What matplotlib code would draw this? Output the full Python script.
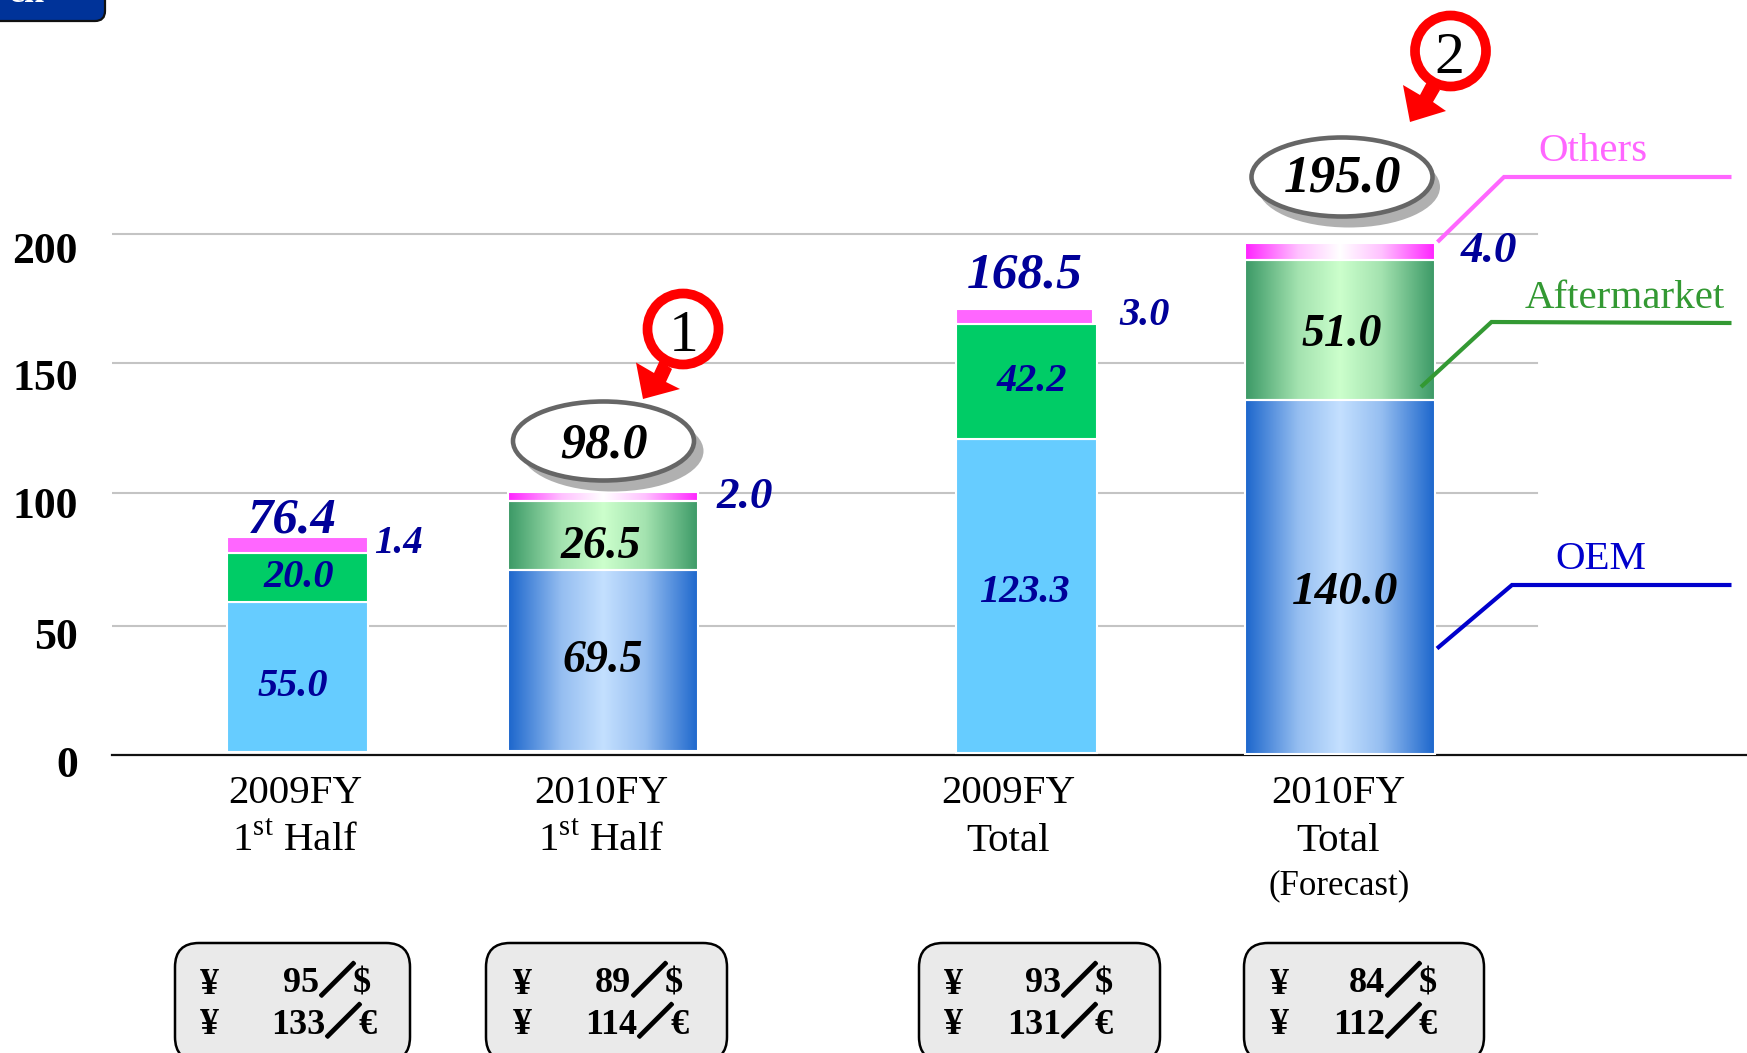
import matplotlib
matplotlib.use('Agg')
import matplotlib.pyplot as plt
import matplotlib.patheffects as pe
import numpy as np
from matplotlib.colors import LinearSegmentedColormap, to_rgb
from matplotlib.patches import Ellipse, FancyBboxPatch, Polygon
from matplotlib.transforms import ScaledTranslation

plt.rcParams['font.family'] = ['Liberation Serif', 'DejaVu Serif']
plt.rcParams['mathtext.fontset'] = 'custom'
plt.rcParams['mathtext.rm'] = 'Liberation Serif'

categories = ['2009FY\n1$^{\\mathrm{st}}$ Half', '2010FY\n1$^{\\mathrm{st}}$ Half',
              '2009FY\nTotal', '2010FY\nTotal']
y_ticks = [0, 50, 100, 150, 200]
# the gridlines in the picture are not quite evenly spaced
grid_levels = [49.8, 100.7, 150.5, 200.3]

# bar heights as drawn in the picture, they differ a bit from the printed numbers
base = [1.1, 1.65, 0.7, 0.5]
oem = [57.8, 69.5, 120.7, 135.9]
aftermarket = [18.8, 26.3, 44.2, 53.7]
others = [6.2, 3.7, 5.9, 6.7]

# printed numbers
oem_labels = ['55.0', '69.5', '123.3', '140.0']
after_labels = ['20.0', '26.5', '42.2', '51.0']
others_labels = ['1.4', '2.0', '3.0', '4.0']
total_labels = ['76.4', '98.0', '168.5', '195.0']

usd_rates = ['95', '89', '93', '84']
eur_rates = ['133', '114', '131', '112']

W, H = 1747, 1053
fig = plt.figure(figsize=(W / 100, H / 100), dpi=100, facecolor='white')

# everything in x is in picture pixels, y in chart units
zero_y = 755.3
px_per_unit = 2.605
ax = fig.add_axes([112 / W, 1 - zero_y / H, (W - 112) / W, zero_y / H])
ax.patch.set_alpha(0)

bar_left = [227, 508, 956, 1245.5]
bar_right = [368, 698.5, 1097, 1435.5]
gradient = [False, True, False, True]
others_right = [368, 698.5, 1093, 1435.5]


def grad_cmap(edge, centre):
    e, c = np.array(to_rgb(edge)), np.array(to_rgb(centre))
    m = e + (c - e) * 0.72
    return LinearSegmentedColormap.from_list(
        'g', [(0, e), (.28, m), (.5, c), (.72, m), (1, e)])


oem_cmap = grad_cmap('#1C66CC', '#C4E0FF')
after_cmap = grad_cmap('#3B9966', '#CCFFCC')
others_cmap = grad_cmap('#FF22FF', '#FFFFFF')
ramp = np.linspace(0, 1, 256).reshape(1, -1)


def draw_segment(left, right, bottom, height, flat, cmap, grad):
    if grad:
        ax.imshow(ramp, cmap=cmap, aspect='auto', zorder=3,
                  extent=(left, right, bottom, bottom + height))
        ax.bar(left, height, right - left, bottom, align='edge', facecolor='none',
               edgecolor='white', linewidth=1.5, zorder=4)
    else:
        ax.bar(left, height, right - left, bottom, align='edge', facecolor=flat,
               edgecolor='white', linewidth=1.5, zorder=4)


for i in range(4):
    b = base[i]
    draw_segment(bar_left[i], bar_right[i], b, oem[i], '#66CCFF', oem_cmap, gradient[i])
    b += oem[i]
    draw_segment(bar_left[i], bar_right[i], b, aftermarket[i], '#00CC66', after_cmap, gradient[i])
    b += aftermarket[i]
    draw_segment(bar_left[i], others_right[i], b, others[i], '#FF66FF', others_cmap, gradient[i])

ax.set_xlim(112, W)
ax.set_ylim(0, zero_y / px_per_unit)

for s in ['top', 'right', 'left']:
    ax.spines[s].set_visible(False)
ax.spines['bottom'].set_linewidth(1.6)
ax.spines['bottom'].set_color('#111111')

for y in grid_levels:
    ax.plot([112, 1537], [y, y], color='#C4C4C4', lw=1.5, zorder=1)

ax.set_yticks(y_ticks, [str(t) for t in y_ticks], fontsize=31.5, fontweight='bold')
ax.tick_params(axis='y', length=0, pad=24.5)
for lab, off in zip(ax.get_yticklabels(), [6.5, 8, 7.5, 10, 13]):
    lab.set_transform(lab.get_transform() + ScaledTranslation(0, -off / 100, fig.dpi_scale_trans))

ax.set_xticks([295.5, 601.5, 1008, 1338.5], categories, fontsize=29.5, linespacing=1.36)
ax.tick_params(axis='x', length=0, pad=14.5)

# overlay in picture pixels for the callouts
ov = fig.add_axes([0, 0, 1, 1])
ov.set_xlim(0, W)
ov.set_ylim(H, 0)
ov.axis('off')
ov.patch.set_alpha(0)

navy = '#000099'


def vtext(x, y, s, color, size):
    ov.text(x, y + 3.5, s, color=color, fontsize=size, fontweight='bold', fontstyle='italic',
            ha='center', va='center', zorder=20)


vtext(293, 683, oem_labels[0], navy, 29)
vtext(603, 657, oem_labels[1], 'black', 33)
vtext(1024, 589, oem_labels[2], navy, 29)
vtext(1345, 590, oem_labels[3], 'black', 34)

vtext(299, 574, after_labels[0], navy, 29)
vtext(601, 544, after_labels[1], 'black', 33)
vtext(1032, 378, after_labels[2], navy, 29)
vtext(1342, 331, after_labels[3], 'black', 33)

vtext(398, 540, others_labels[0], navy, 28)
vtext(745, 494, others_labels[1], navy, 32.5)
vtext(1145, 312, others_labels[2], navy, 29)
vtext(1489, 248, others_labels[3], navy, 32.5)

vtext(292, 517, total_labels[0], navy, 36.5)
vtext(1025, 272, total_labels[2], navy, 37)

# ellipses with drop shadow
for cx, cy, lab, fs, dx, ty in [(603.5, 441, total_labels[1], 36, 9, 442.5),
                                (1342, 177, total_labels[3], 37.5, 7, 175.5)]:
    ov.add_patch(Ellipse((cx + dx, cy + 10), 182, 81, fc='#B0B0B0', ec='none', zorder=10))
    ov.add_patch(Ellipse((cx, cy), 181, 79, fc='white', ec='#666666', lw=3.3, zorder=11))
    vtext(cx + 1, ty, lab, 'black', fs)

# red numbered circles with arrows
for cx, cy, num, tx in [(683, 329, '1', 683.5), (1450.5, 51, '2', 1449.5)]:
    ov.add_patch(Ellipse((cx, cy), 71, 71, fc='white', ec='#FF0000', lw=7, zorder=15))
    ov.text(tx, cy + 8, num, color='black', fontsize=43, ha='center', va='center', zorder=20)

ov.add_patch(Polygon([(643, 399), (636, 362.5), (654, 373), (660, 360), (672, 369),
                      (666, 382), (680, 389)], fc='#FF0000', ec='none', zorder=14))
ov.add_patch(Polygon([(1410, 122), (1403, 85), (1420, 95), (1428, 80), (1440, 90),
                      (1433, 102), (1446, 111)], fc='#FF0000', ec='none', zorder=14))

# series names with leader lines
ov.plot([1437.5, 1504, 1731.5], [242, 177, 177], color='#FF66FF', lw=3, zorder=16,
        solid_joinstyle='miter', solid_capstyle='butt')
ov.plot([1421, 1491.5, 1731.5], [387, 322, 323], color='#339933', lw=3, zorder=16,
        solid_joinstyle='miter', solid_capstyle='butt')
ov.plot([1437, 1512, 1731.5], [648.5, 585, 585], color='#0000CC', lw=3, zorder=16,
        solid_joinstyle='miter', solid_capstyle='butt')
ov.text(1593, 151.5, 'Others', color='#FF66FF', fontsize=29.5, ha='center', va='center')
ov.text(1625, 298, 'Aftermarket', color='#339933', fontsize=29.5, ha='center', va='center')
ov.text(1601, 559.5, 'OEM', color='#0000CC', fontsize=29.5, ha='center', va='center')

ov.text(1339, 885.5, '(Forecast)', color='black', fontsize=25, ha='center', va='center')

# exchange rate boxes
box_left = [175, 486, 919, 1244]
box_right = [410, 727, 1160, 1484]
yen_x = [200, 513, 944, 1270]
usd_right = [371, 683, 1113, 1437]
eur_right = [377, 689, 1113, 1437]
for i in range(4):
    ov.add_patch(FancyBboxPatch((box_left[i] + 24, 943 + 24), box_right[i] - box_left[i] - 48, 70,
                                boxstyle='round,pad=24,rounding_size=24',
                                fc='#EAEAEA', ec='black', lw=1.8, zorder=5))
    for y, rate, cur, rx in [(984, usd_rates[i], '$', usd_right[i]),
                             (1025, eur_rates[i], '€', eur_right[i])]:
        ov.text(yen_x[i], y, '¥', fontsize=27, fontweight='bold', ha='left', va='center', zorder=6)
        ov.text(rx, y, cur, fontsize=26, fontweight='bold', ha='right', va='center', zorder=6)
        ov.text(rx - 52, y, rate, fontsize=26, fontweight='bold', ha='right', va='center', zorder=6)
        ov.text(rx - 33.5, y - 1.5, '／', fontsize=26, fontweight='bold', ha='center', va='center',
                zorder=6, family=['Noto Sans CJK JP', 'DejaVu Sans'],
                path_effects=[pe.withStroke(linewidth=2.2, foreground='black')])

# cut off button in the top left corner
ov.add_patch(FancyBboxPatch((-40, -40), 139, 55, boxstyle='round,pad=6,rounding_size=10',
                            fc='#003399', ec='#111111', lw=1.6, zorder=5))
ov.text(27, 2, 'en', color='white', fontsize=26, fontweight='bold', ha='center', va='baseline', zorder=6)

fig.savefig('out.png', dpi=100)
